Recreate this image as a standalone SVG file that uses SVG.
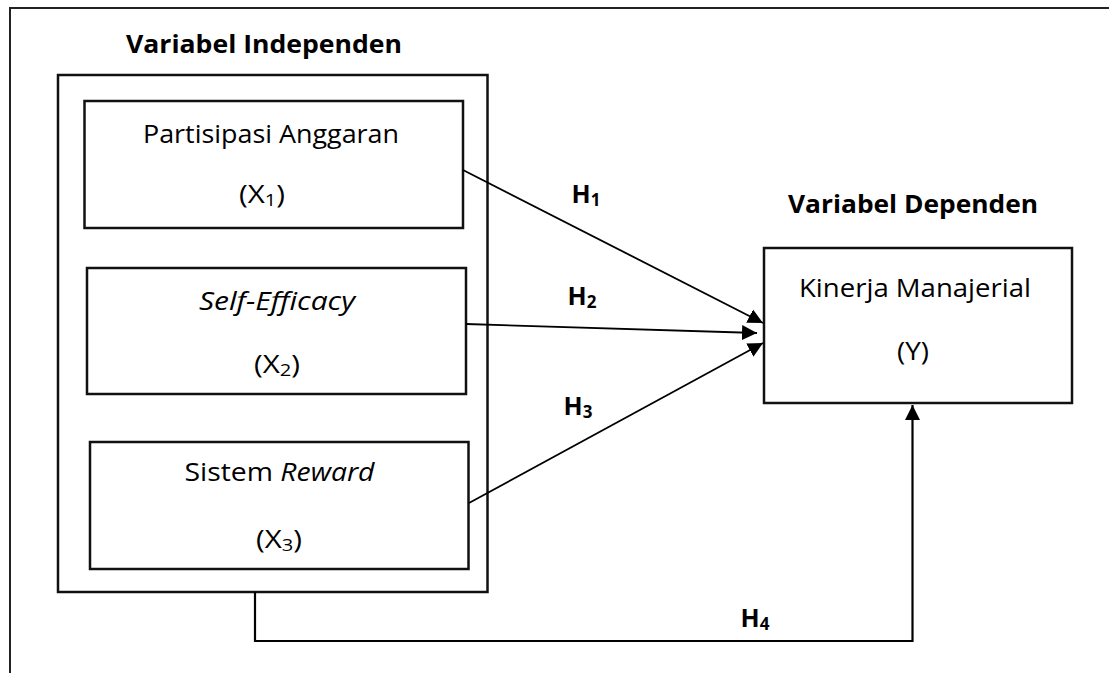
<svg xmlns="http://www.w3.org/2000/svg" width="1109" height="673" viewBox="0 0 1109 673">
  <style>
    .box { fill: #fff; stroke: #111; stroke-width: 2.5; }
    .frame { fill: none; stroke: #222; stroke-width: 2; }
    .conn { fill: none; stroke: #000; stroke-width: 1.8; }
    .t { font-family: "Open Sans", "Liberation Sans", sans-serif; font-size: 25px; fill: #000; text-anchor: middle; }
    .b { font-weight: bold; }
    .i { font-style: italic; }
    .sub { font-size: 17px; }
  </style>
  <defs>
    <marker id="arr" markerUnits="userSpaceOnUse" markerWidth="16" markerHeight="16" viewBox="0 0 16 16" refX="15" refY="8" orient="auto">
      <path d="M0,0.5 L15,8 L0,15.5 Z" fill="#000"/>
    </marker>
  </defs>
  <rect width="1109" height="673" fill="#fff"/>
  <path class="frame" d="M10,673 V8 H1109"/>

  <g id="independen">
    <rect class="box" x="58" y="75" width="429.5" height="517"/>
    <text class="t b" x="264" y="53" textLength="276" lengthAdjust="spacingAndGlyphs">Variabel Independen</text>
  </g>

  <g id="x1">
    <rect class="box" x="84.5" y="101" width="378.5" height="127"/>
    <text class="t" x="271" y="143" textLength="256" lengthAdjust="spacingAndGlyphs">Partisipasi Anggaran</text>
    <text class="t" x="262" y="203" textLength="46" lengthAdjust="spacingAndGlyphs">(X<tspan class="sub" dy="3">1</tspan><tspan dy="-3">)</tspan></text>
  </g>

  <g id="x2">
    <rect class="box" x="87" y="268" width="379" height="126"/>
    <text class="t i" x="277" y="310" textLength="156" lengthAdjust="spacingAndGlyphs">Self-Efficacy</text>
    <text class="t" x="277" y="373" textLength="46" lengthAdjust="spacingAndGlyphs">(X<tspan class="sub" dy="3">2</tspan><tspan dy="-3">)</tspan></text>
  </g>

  <g id="x3">
    <rect class="box" x="90" y="442" width="378.5" height="127"/>
    <text class="t" x="279.5" y="481" textLength="190" lengthAdjust="spacingAndGlyphs">Sistem <tspan class="i">Reward</tspan></text>
    <text class="t" x="279" y="548" textLength="46" lengthAdjust="spacingAndGlyphs">(X<tspan class="sub" dy="3">3</tspan><tspan dy="-3">)</tspan></text>
  </g>

  <g id="y">
    <rect class="box" x="764" y="248" width="308" height="155"/>
    <text class="t b" x="913" y="213" textLength="250" lengthAdjust="spacingAndGlyphs">Variabel Dependen</text>
    <text class="t" x="915" y="297" textLength="232" lengthAdjust="spacingAndGlyphs">Kinerja Manajerial</text>
    <text class="t" x="913" y="360" textLength="32" lengthAdjust="spacingAndGlyphs">(Y)</text>
  </g>

  <g id="connectors">
    <line class="conn" x1="463" y1="170" x2="763" y2="323" marker-end="url(#arr)"/>
    <line class="conn" x1="466" y1="324" x2="757" y2="333" marker-end="url(#arr)"/>
    <line class="conn" x1="469" y1="503" x2="763" y2="343" marker-end="url(#arr)"/>
    <path class="conn" d="M255,592 V641 H912.5 V405" marker-end="url(#arr)" style="stroke-width:2.2"/>
    <text class="t b" x="586" y="203">H<tspan class="sub" dy="3">1</tspan></text>
    <text class="t b" x="582" y="305">H<tspan class="sub" dy="3">2</tspan></text>
    <text class="t b" x="578" y="415">H<tspan class="sub" dy="3">3</tspan></text>
    <text class="t b" x="755" y="627">H<tspan class="sub" dy="3">4</tspan></text>
  </g>
</svg>
